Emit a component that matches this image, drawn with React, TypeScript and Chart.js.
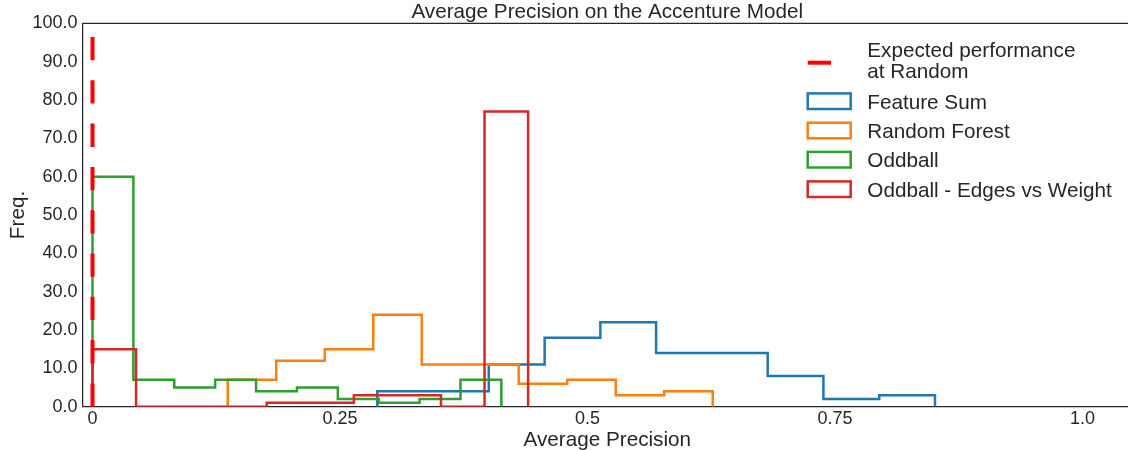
import React, { useEffect, useRef } from "react";
import { Chart, registerables } from "chart.js";

Chart.register(...registerables);

// ---- data ----
const chartTitle = "Average Precision on the Accenture Model";
const xAxisLabel = "Average Precision";
const yAxisLabel = "Freq.";

const featureSumEdges = [0.2877, 0.344, 0.4003, 0.4567, 0.513, 0.5693, 0.6257, 0.682, 0.7383, 0.7947, 0.851];
const featureSumCounts = [4, 4, 11, 18, 22, 14, 14, 8, 2, 3];

const randomForestEdges = [0.1366, 0.1856, 0.2346, 0.2836, 0.3326, 0.3816, 0.4305, 0.4795, 0.5285, 0.5775, 0.6265];
const randomForestCounts = [7, 12, 15, 24, 11, 11, 6, 7, 3, 4];

const oddballEdges = [0, 0.0413, 0.0826, 0.1239, 0.1652, 0.2065, 0.2478, 0.2891, 0.3304, 0.3717, 0.413];
const oddballCounts = [60, 7, 5, 7, 4, 5, 2, 1, 2, 7];

const edgesWeightEdges = [0, 0.044, 0.088, 0.132, 0.176, 0.22, 0.264, 0.308, 0.352, 0.396, 0.44];
const edgesWeightCounts = [15, 0, 0, 0, 1, 1, 3, 3, 0, 77];

const randomBaselineX = [0, 0];
const randomBaselineY = [0, 100];

const xTickValues = [0, 0.25, 0.5, 0.75, 1.0];
const xTickLabels = ["0", "0.25", "0.5", "0.75", "1.0"];

const legendLabels = [
  ["Expected performance", "at Random"],
  ["Feature Sum"],
  ["Random Forest"],
  ["Oddball"],
  ["Oddball - Edges vs Weight"],
];

const COLORS = {
  baseline: "#ff0000",
  featureSum: "#1f77b4",
  randomForest: "#ff7f0e",
  oddball: "#2ca02c",
  edgesWeight: "#d62728",
};

const FONT = "'Liberation Sans', Arial, sans-serif";
const TEXT = "#262626";

function stepPoints(edges: number[], counts: number[]) {
  const pts: { x: number; y: number }[] = [{ x: edges[0], y: 0 }];
  for (let i = 0; i < counts.length; i++) pts.push({ x: edges[i], y: counts[i] });
  pts.push({ x: edges[edges.length - 1], y: 0 });
  return pts;
}

const decorPlugin = {
  id: "decor",
  afterDraw(chart: any) {
    const { ctx, chartArea: ca } = chart;
    ctx.save();
    // top & right frame
    ctx.strokeStyle = TEXT;
    ctx.lineWidth = 1.25;
    ctx.beginPath();
    ctx.moveTo(ca.left, ca.top);
    ctx.lineTo(ca.right, ca.top);
    ctx.lineTo(ca.right, ca.bottom);
    ctx.stroke();

    ctx.fillStyle = TEXT;
    ctx.font = `20.7px ${FONT}`;
    ctx.textAlign = "center";
    ctx.textBaseline = "alphabetic";
    const cx = (ca.left + ca.right) / 2;
    ctx.fillText(chartTitle, cx, 17.5);
    ctx.fillText(xAxisLabel, cx, 445.7);

    ctx.save();
    ctx.translate(24, (ca.top + ca.bottom) / 2);
    ctx.rotate(-Math.PI / 2);
    ctx.fillText(yAxisLabel, 0, 0);
    ctx.restore();

    // legend
    const hx = 807.7;
    const hw = 43;
    const tx = 867.3;
    ctx.textAlign = "left";
    // baseline entry
    ctx.strokeStyle = COLORS.baseline;
    ctx.lineWidth = 4;
    ctx.setLineDash([23.3, 20]);
    ctx.beginPath();
    ctx.moveTo(hx, 62.7);
    ctx.lineTo(hx + hw, 62.7);
    ctx.stroke();
    ctx.setLineDash([]);
    ctx.fillStyle = TEXT;
    ctx.fillText(legendLabels[0][0], tx, 56.7);
    ctx.fillText(legendLabels[0][1], tx, 78.4);

    const boxColors = [COLORS.featureSum, COLORS.randomForest, COLORS.oddball, COLORS.edgesWeight];
    const centers = [101.2, 130.5, 159.7, 189.2];
    for (let i = 0; i < boxColors.length; i++) {
      const cy = centers[i];
      ctx.strokeStyle = boxColors[i];
      ctx.lineWidth = 2.5;
      ctx.strokeRect(hx, cy - 7.8, hw, 15.6);
      ctx.fillStyle = TEXT;
      ctx.fillText(legendLabels[i + 1][0], tx, cy + 7.6);
    }
    ctx.restore();
  },
};

export default function App() {
  const ref = useRef<HTMLCanvasElement | null>(null);

  useEffect(() => {
    if (!ref.current) return;
    const histLine = (label: string, color: string, edges: number[], counts: number[]) => ({
      label,
      data: stepPoints(edges, counts),
      borderColor: color,
      backgroundColor: color,
      borderWidth: 2.5,
      pointRadius: 0,
      fill: false,
      stepped: true,
      tension: 0,
      borderJoinStyle: "miter",
    });
    const chart = new Chart(ref.current, {
      type: "line",
      data: {
        datasets: [
          {
            label: "Expected performance at Random",
            data: randomBaselineX.map((x, i) => ({ x, y: randomBaselineY[i] })),
            borderColor: COLORS.baseline,
            borderWidth: 4,
            borderDash: [23.3, 20],
            borderCapStyle: "butt",
            pointRadius: 0,
            fill: false,
          } as any,
          histLine("Oddball - Edges vs Weight", COLORS.edgesWeight, edgesWeightEdges, edgesWeightCounts),
          histLine("Oddball", COLORS.oddball, oddballEdges, oddballCounts),
          histLine("Random Forest", COLORS.randomForest, randomForestEdges, randomForestCounts),
          histLine("Feature Sum", COLORS.featureSum, featureSumEdges, featureSumCounts),
        ],
      },
      options: {
        responsive: false,
        animation: false,
        devicePixelRatio: 1,
        layout: { padding: { top: 23.3, right: 4, left: 0, bottom: 0 } },
        plugins: {
          legend: { display: false },
          title: { display: false },
          tooltip: { enabled: false },
        },
        scales: {
          x: {
            type: "linear",
            min: -0.01,
            max: 1.05,
            grid: { display: false, drawTicks: false },
            border: { display: true, color: TEXT, width: 1.25 },
            afterBuildTicks: (scale: any) => {
              scale.ticks = xTickValues.map((v) => ({ value: v }));
            },
            afterFit: (scale: any) => {
              scale.height = 43.3;
            },
            ticks: {
              autoSkip: false,
              maxRotation: 0,
              padding: 1.5,
              color: TEXT,
              font: { family: FONT, size: 18 },
              callback: (v: any) => {
                const idx = xTickValues.indexOf(Number(v));
                return idx >= 0 ? xTickLabels[idx] : "";
              },
            },
          },
          y: {
            min: 0,
            max: 100,
            grid: { display: false, drawTicks: false },
            border: { display: true, color: TEXT, width: 1.25 },
            afterFit: (scale: any) => {
              scale.width = 82.6;
            },
            ticks: {
              stepSize: 10,
              padding: 5,
              color: TEXT,
              font: { family: FONT, size: 18 },
              callback: (v: any) => Number(v).toFixed(1),
            },
          },
        },
      } as any,
      plugins: [decorPlugin],
    });
    return () => chart.destroy();
  }, []);

  return (
    <div style={{ position: "absolute", left: 0, top: 0, width: 1128, height: 450, overflow: "hidden", background: "#fff" }}>
      <canvas ref={ref} width={1136} height={450} style={{ width: 1136, height: 450, display: "block" }} />
    </div>
  );
}
